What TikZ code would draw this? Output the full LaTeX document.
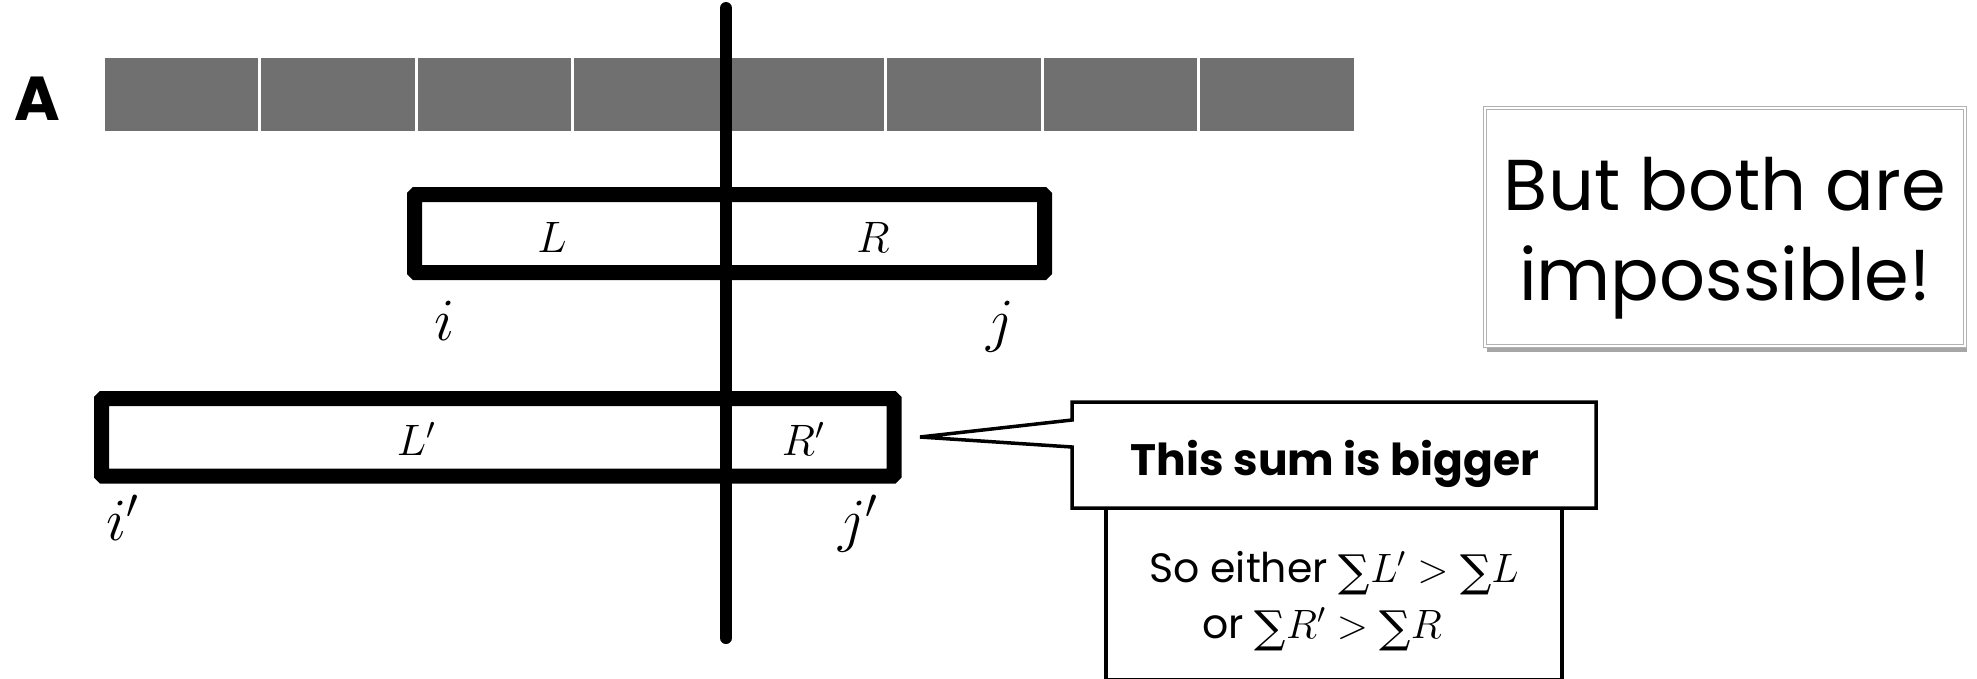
\RequirePackage{fix-cm}
\documentclass[tikz,border=0pt]{standalone}
\usepackage{fontspec}
\setmainfont{Poppins}
\newfontfamily\sumfont{DejaVu Serif}
\newcommand{\bsum}{\raisebox{-4pt}{\sumfont\fontsize{44}{44}\selectfont ∑}}
\usetikzlibrary{shadows}
\definecolor{bargray}{RGB}{112,112,112}
\tikzset{
  cell/.style={fill=bargray, draw=none, inner sep=0pt, minimum width=153.5pt, minimum height=73pt},
  segbox/.style={draw=black, line width=15pt, rounded corners=1.5pt, fill=white, inner sep=0pt},
  divider/.style={draw=black, line width=12pt, line cap=round},
  mathlbl/.style={inner sep=0pt, anchor=base, font=\fontsize{44}{50}\selectfont},
  idxlbl/.style={inner sep=0pt, anchor=base, font=\fontsize{60}{70}\selectfont},
  callout/.style={draw=black, line width=3.5pt, fill=white, line join=miter},
  expltext/.style={inner sep=0pt, anchor=base, font=\fontsize{41}{44}\selectfont},
  notebox/.style={draw=gray!60, double=white, double distance=2pt, line width=1.3pt, fill=white,
     inner sep=0pt, minimum width=480pt, minimum height=238pt,
     drop shadow={shadow xshift=2pt, shadow yshift=-6pt, opacity=0.35, fill=black}},
}
\begin{document}
\begin{tikzpicture}[x=1pt,y=-1pt]
\useasboundingbox (0,0) rectangle (1977,678);

% array A
\node[inner sep=0pt, anchor=base, font=\fontsize{62}{70}\selectfont\bfseries] (lblA) at (37,120) {A};
\foreach \k in {0,...,7} {
  \node[cell] (c\k) at ({103+156.5*\k+78.25},94.5) {};
}

% segment boxes
\node[segbox, minimum width=630pt, minimum height=78pt] (LR) at (729.5,233.5) {};
\node[segbox, minimum width=792.5pt, minimum height=77.5pt] (LRp) at (497.75,437.25) {};

% divider
\coordinate (dtop) at (726,8);
\coordinate (dbot) at (726,638);
\draw[divider] (dtop) -- (dbot);

% labels
\node[mathlbl] (lL) at (552,252) {$L$};
\node[mathlbl] (lR) at (873,252) {$R$};
\node[idxlbl] (li) at (445,340) {$i$};
\node[idxlbl] (lj) at (1000,340) {$j$};
\node[mathlbl] (lLp) at (416,455) {$L'$};
\node[mathlbl] (lRp) at (803,455) {$R'$};
\node[idxlbl] (lip) at (123,540) {$i'$};
\node[idxlbl] (ljp) at (858,540) {$j'$};

% lower explanation box
\node[draw=black, line width=3.5pt, fill=white, inner sep=0pt, minimum width=456pt, minimum height=172pt] (expl) at (1334,594) {};
\node[expltext] (e1) at (1334,582) {So either \bsum$L' > {}$\bsum$L$};
\node[expltext] (e2) at (1322,638) {or \bsum$R' > {}$\bsum$R$};

% callout
\coordinate (tip) at (920,437);
\draw[callout] (1072,402) -- (1596,402) -- (1596,508) -- (1072,508) -- (1072,447) -- (tip) -- (1072,420) -- cycle;
\node[inner sep=0pt, anchor=base, font=\fontsize{44}{50}\selectfont\bfseries] (big) at (1335,475) {This sum is bigger};

% note box
\node[notebox] (note) at (1725,227) {};
\node[inner sep=0pt, anchor=base, font=\fontsize{72}{90}\selectfont] (n1) at (1725,210) {But both are};
\node[inner sep=0pt, anchor=base, font=\fontsize{72}{90}\selectfont] (n2) at (1725,300) {impossible!};
\end{tikzpicture}
\end{document}
